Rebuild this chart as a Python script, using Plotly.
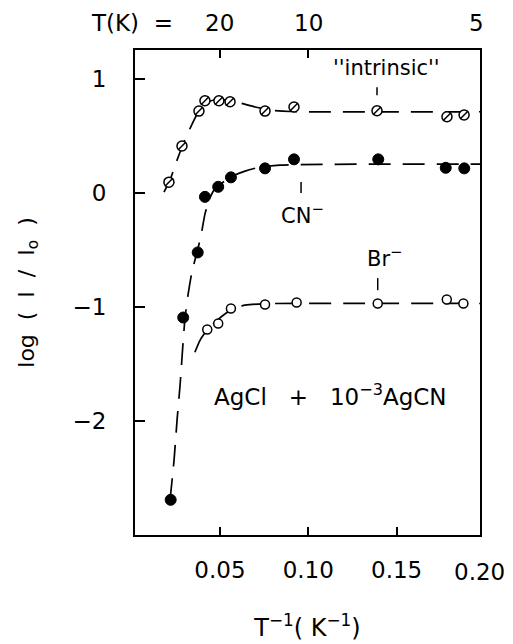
import plotly.graph_objects as go

# ---------------- data ----------------
# x = 1/T (1/K), y = log(I/I0)
intr_x = [0.0211, 0.0285, 0.0381, 0.0415, 0.0494, 0.0557, 0.0755, 0.0919, 0.1389, 0.1785, 0.1882]
intr_y = [0.097, 0.414, 0.721, 0.812, 0.812, 0.803, 0.721, 0.757, 0.724, 0.671, 0.686]

cn_x = [0.0221, 0.0292, 0.0374, 0.0415, 0.0490, 0.0562, 0.0755, 0.0919, 0.1396, 0.1778, 0.1883]
cn_y = [-2.691, -1.091, -0.520, -0.032, 0.056, 0.139, 0.218, 0.297, 0.297, 0.223, 0.218]

br_x = [0.0428, 0.0490, 0.0562, 0.0755, 0.0934, 0.1393, 0.1784, 0.1878]
br_y = [-1.197, -1.144, -1.012, -0.977, -0.960, -0.968, -0.933, -0.968]

# dashed guide curves
intr_fit_x = [0.0183, 0.0217, 0.0251, 0.0285, 0.0319, 0.0353, 0.0387, 0.0421, 0.0466, 0.0534, 0.0613, 0.0698, 0.0783, 0.0896, 0.1972]
intr_fit_y = [0.010, 0.115, 0.265, 0.406, 0.529, 0.642, 0.739, 0.792, 0.818, 0.818, 0.792, 0.757, 0.730, 0.717, 0.715]

cn_fit_x = [0.0217, 0.0240, 0.0257, 0.0274, 0.0290, 0.0302, 0.0319, 0.0341, 0.0370, 0.0392, 0.0415, 0.0438, 0.0466, 0.0511, 0.0568, 0.0642, 0.0727, 0.0840, 0.1972]
cn_fit_y = [-2.697, -2.345, -1.994, -1.686, -1.335, -1.098, -0.895, -0.693, -0.518, -0.377, -0.184, -0.061, 0.027, 0.089, 0.150, 0.194, 0.229, 0.247, 0.256]

br_fit_x = [0.0358, 0.0387, 0.0421, 0.0460, 0.0511, 0.0568, 0.0642, 0.0755, 0.1972]
br_fit_y = [-1.396, -1.291, -1.212, -1.150, -1.080, -1.018, -0.983, -0.970, -0.968]

x_ticks = [0.05, 0.10, 0.15, 0.20]
x_ticktext = ["0.05", "0.10", "0.15", "0.20"]
y_ticks = [-2, -1, 0, 1]
top_T = [20, 10, 5]

X_RANGE = [0.0019, 0.1972]
Y_RANGE = [-3.0, 1.257]

FONT = "DejaVu Sans"
DASH = "22px,12px"
TS = 23  # tick label size
NB = "\u00a0"


def xpaper(v):
    return (v - X_RANGE[0]) / (X_RANGE[1] - X_RANGE[0])


fig = go.Figure()

for fx, fy in [(intr_fit_x, intr_fit_y), (cn_fit_x, cn_fit_y), (br_fit_x, br_fit_y)]:
    fig.add_trace(go.Scatter(x=fx, y=fy, mode="lines",
                             line=dict(color="black", width=1.7, dash=DASH, shape="spline", smoothing=0.6),
                             showlegend=False, hoverinfo="skip"))

# intrinsic: hatched open circles
fig.add_trace(go.Scatter(x=intr_x, y=intr_y, mode="markers",
                         marker=dict(symbol="circle", size=10, color="white", line=dict(color="black", width=1.5)),
                         showlegend=False))
fig.add_trace(go.Scatter(x=intr_x, y=intr_y, mode="markers",
                         marker=dict(symbol="line-ne", size=8, line=dict(color="black", width=1.5)),
                         showlegend=False))
# CN-: filled circles
fig.add_trace(go.Scatter(x=cn_x, y=cn_y, mode="markers",
                         marker=dict(symbol="circle", size=11, color="black", line=dict(color="black", width=1)),
                         showlegend=False))
# Br-: open circles
fig.add_trace(go.Scatter(x=br_x, y=br_y, mode="markers",
                         marker=dict(symbol="circle", size=9, color="white", line=dict(color="black", width=1.5)),
                         showlegend=False))

# dummy trace for the top axis
fig.add_trace(go.Scatter(x=[x_ticks[0]], y=[y_ticks[0]], xaxis="x2", mode="markers",
                         marker=dict(opacity=0), showlegend=False, hoverinfo="skip"))

# label pointers (short vertical marks)
pointers = [(intr_x[8], 0.93, 0.86), (cn_x[7] + 0.004, 0.098, 0.001), (br_x[5], -0.745, -0.851)]
for px, y0, y1 in pointers:
    fig.add_shape(type="line", x0=px, x1=px, y0=y0, y1=y1, xref="x", yref="y",
                  line=dict(color="black", width=1.5))

ann = []
ann.append(dict(text="''intrinsic''", x=0.144, y=1.099, xref="x", yref="y", showarrow=False,
                font=dict(family=FONT, size=21, color="black")))
ann.append(dict(text="CN<sup>−</sup>", x=0.0965, y=-0.18, xref="x", yref="y", showarrow=False,
                font=dict(family=FONT, size=21, color="black")))
ann.append(dict(text="Br<sup>−</sup>", x=0.1434, y=-0.56, xref="x", yref="y", showarrow=False,
                font=dict(family=FONT, size=21, color="black")))
ann.append(dict(text=f"AgCl{NB}{NB} +{NB}{NB} 10<sup>−3</sup>AgCN", x=0.1123, y=-1.77, xref="x", yref="y",
                showarrow=False, font=dict(family=FONT, size=23, color="black")))
# bottom label beyond the axis range
ann.append(dict(text=x_ticktext[3], x=xpaper(x_ticks[3]), y=0, xref="paper", yref="paper",
                xanchor="center", yanchor="middle", xshift=-5,
                yshift=-37, showarrow=False, font=dict(family=FONT, size=TS, color="black")))
# top temperature labels
top_x = [1.0 / t for t in top_T]
ann.append(dict(text=str(top_T[0]), x=xpaper(top_x[0]), y=1, xref="paper", yref="paper",
                xanchor="center", yanchor="middle",
                yshift=27, showarrow=False, font=dict(family=FONT, size=TS, color="black")))
ann.append(dict(text=f"T(K){NB} =", x=xpaper(top_x[0]), y=1, xref="paper", yref="paper", yanchor="middle",
                xanchor="right", xshift=-45, yshift=27, showarrow=False,
                font=dict(family=FONT, size=TS, color="black")))
ann.append(dict(text=str(top_T[1]), x=xpaper(top_x[1]), y=1, xref="paper", yref="paper",
                xanchor="center", yanchor="middle",
                yshift=27, showarrow=False, font=dict(family=FONT, size=TS, color="black")))
ann.append(dict(text=str(top_T[2]), x=xpaper(top_x[2]), y=1, xref="paper", yref="paper",
                xanchor="center", yanchor="middle",
                yshift=27, xshift=-8, showarrow=False, font=dict(family=FONT, size=TS, color="black")))

fig.update_layout(
    width=513, height=644,
    margin=dict(l=135, r=33, t=50, b=109, autoexpand=False),
    paper_bgcolor="white", plot_bgcolor="white",
    font=dict(family=FONT, size=TS, color="black"),
    annotations=ann,
    xaxis=dict(range=X_RANGE, tickvals=x_ticks[:3], ticktext=x_ticktext[:3], automargin=False,
               ticks="inside", ticklen=8, tickwidth=1.5, tickcolor="black",
               showline=True, linewidth=2, linecolor="black", mirror=True,
               showgrid=False, zeroline=False, ticklabelstandoff=13,
               title=dict(text=f"T<sup>−1</sup>({NB}K<sup>−1</sup>)", standoff=38,
                          font=dict(family=FONT, size=24))),
    xaxis2=dict(overlaying="x", side="top", matches="x", tickvals=top_x[:2], automargin=False,
                ticks="inside", ticklen=8, tickwidth=1.5, tickcolor="black",
                showticklabels=False, showline=False, showgrid=False, zeroline=False),
    yaxis=dict(range=Y_RANGE, tickvals=y_ticks, automargin=False,
               ticks="inside", ticklen=10, tickwidth=1.5, tickcolor="black",
               showline=True, linewidth=2, linecolor="black", mirror=True,
               showgrid=False, zeroline=False, ticklabelstandoff=22,
               title=dict(text=f"log{NB} ({NB} I{NB} /{NB} I<sub>o</sub>{NB} )", standoff=32,
                          font=dict(family=FONT, size=22))),
)

fig.write_html("out.html")
